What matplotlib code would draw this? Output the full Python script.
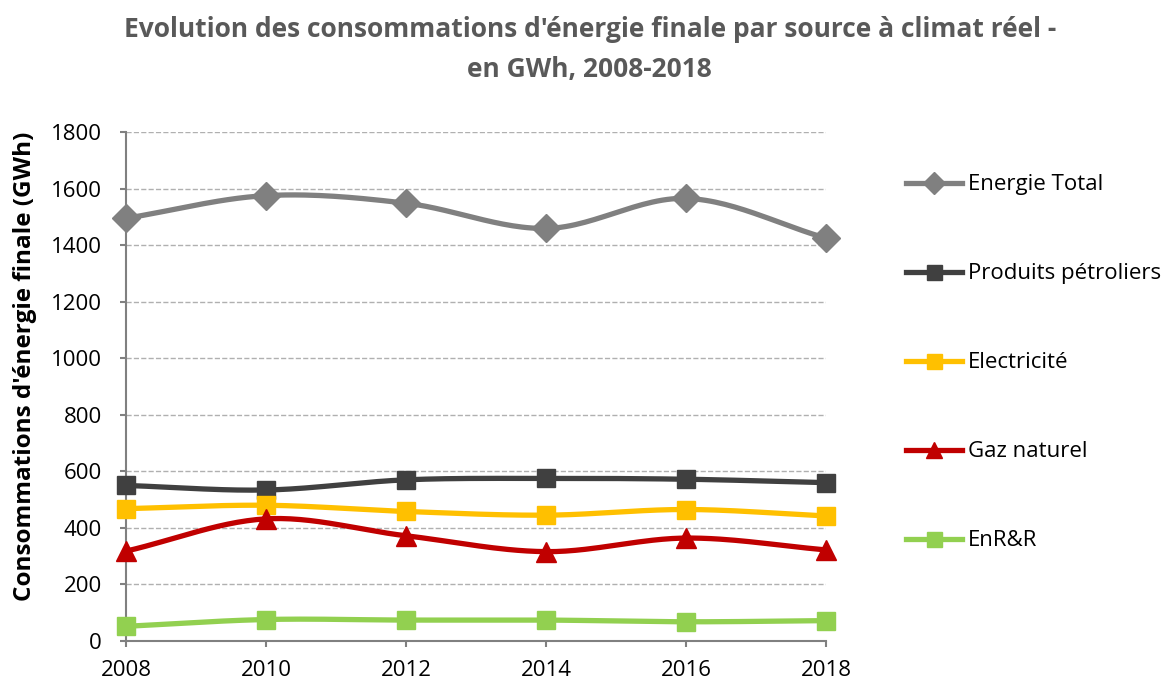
import numpy as np
import matplotlib.pyplot as plt

plt.rcParams['font.family'] = ['Open Sans', 'DejaVu Sans']

years = [2008, 2010, 2012, 2014, 2016, 2018]
energie_total = [1495, 1575, 1548, 1459, 1565, 1424]
produits_petroliers = [550, 534, 570, 575, 572, 560]
electricite = [468, 480, 458, 445, 465, 442]
gaz_naturel = [318, 432, 372, 316, 364, 322]
enrr = [52, 76, 74, 74, 68, 72]

series = [
    ("Energie Total", energie_total, "#808080", "D", 14),
    ("Produits pétroliers", produits_petroliers, "#404040", "s", 13.5),
    ("Electricité", electricite, "#FFC000", "s", 13.5),
    ("Gaz naturel", gaz_naturel, "#C00000", "^", 15),
    ("EnR&R", enrr, "#92D050", "s", 13.5),
]


# smooth line through the points (like excel "smoothed line")
def smooth(x, y, n=30):
    x = np.asarray(x, float)
    y = np.asarray(y, float)
    px = np.concatenate([[2 * x[0] - x[1]], x, [2 * x[-1] - x[-2]]])
    py = np.concatenate([[2 * y[0] - y[1]], y, [2 * y[-1] - y[-2]]])
    xs, ys = [], []
    for i in range(1, len(px) - 2):
        t = np.linspace(0, 1, n)
        for p, out in ((px, xs), (py, ys)):
            p0, p1, p2, p3 = p[i - 1], p[i], p[i + 1], p[i + 2]
            out.extend(0.5 * (2 * p1 + (-p0 + p2) * t
                              + (2 * p0 - 5 * p1 + 4 * p2 - p3) * t ** 2
                              + (-p0 + 3 * p1 - 3 * p2 + p3) * t ** 3))
    return xs, ys


fig = plt.figure(figsize=(11.69, 6.86), dpi=100)
ax = fig.add_axes([0.108, 0.0656, 0.599, 0.742])

for name, vals, col, mk, ms in series:
    sx, sy = smooth(years, vals)
    ax.plot(sx, sy, color=col, lw=3.8, solid_capstyle='round', zorder=3,
            clip_on=False)
    ax.plot(years, vals, ls='none', marker=mk, color=col, ms=ms, zorder=4,
            clip_on=False)
    ax.plot([], [], color=col, lw=3.8, marker=mk, ms=ms * 0.8, label=name)

ax.set_xlim(2008, 2018)
ax.set_ylim(0, 1800)
ax.set_xticks(years)
ax.set_yticks(range(0, 1801, 200))
ax.grid(axis='y', color='#b0b0b0', ls='--', lw=1)
ax.set_axisbelow(True)
for s in ['top', 'right']:
    ax.spines[s].set_visible(False)
for s in ['left', 'bottom']:
    ax.spines[s].set_color('#808080')
    ax.spines[s].set_linewidth(1.5)
ax.tick_params(axis='both', colors='#808080', length=4.5, width=1.5,
               labelsize=16, labelcolor='black')
ax.tick_params(axis='y', pad=13)
ax.tick_params(axis='x', pad=9)

fig.text(0.021, 0.466, "Consommations d'énergie finale (GWh)", rotation=90,
         ha='center', va='center', fontsize=17.5, fontweight='bold')

fig.text(0.505, 0.946, "Evolution des consommations d'énergie finale par source à climat réel -",
         ha='center', va='baseline', fontsize=19, fontweight='bold', color='#595959')
fig.text(0.504, 0.888, "en GWh, 2008-2018",
         ha='center', va='baseline', fontsize=19, fontweight='bold', color='#595959')

fig.legend(loc='upper left', bbox_to_anchor=(0.758, 0.775), frameon=False,
           fontsize=16, labelspacing=3.06, handlelength=2.5, handletextpad=0.27)

fig.savefig("out.png", dpi=100)
